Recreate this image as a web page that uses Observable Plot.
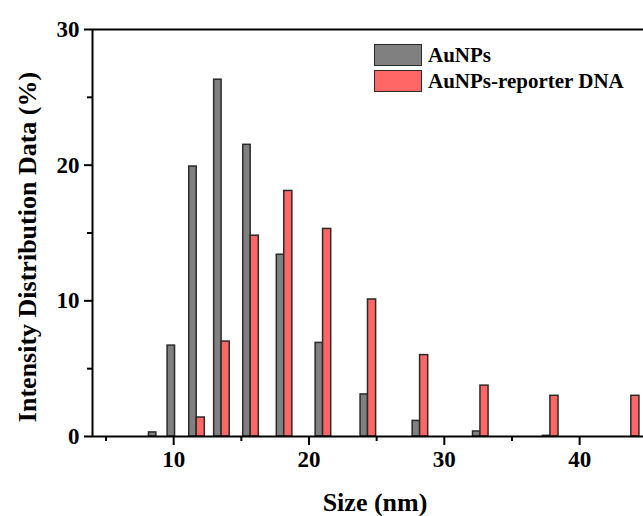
<!DOCTYPE html>
<html>
<head>
<meta charset="utf-8">
<script src="https://cdn.jsdelivr.net/npm/d3@7"></script>
<script src="https://cdn.jsdelivr.net/npm/@observablehq/plot@0.6"></script>
<style>
  html, body { margin: 0; padding: 0; background: #fff; overflow: hidden; }
  #wrap { position: relative; width: 643px; height: 516px; overflow: hidden; }
  .legend { position: absolute; left: 374px; top: 42px; font-family: "Liberation Serif", "Times New Roman", serif; font-weight: bold; font-size: 21px; color: #000; }
  .legend .row { display: flex; align-items: center; height: 26px; }
  .legend .sw { width: 48px; height: 22px; border: 1.5px solid #2a2a2a; margin-right: 6px; box-sizing: border-box; }
</style>
</head>
<body>
<div id="wrap"></div>
<script>
// Size bins (nm)
const sizes = [8.721, 10.10, 11.70, 13.54, 15.69, 18.17, 21.04, 24.36, 28.21, 32.67, 37.84, 43.82];
// Intensity (%) – AuNPs
const auNPs = [0.3, 6.7, 19.9, 26.3, 21.5, 13.4, 6.9, 3.1, 1.15, 0.37, 0.05, 0];
// Intensity (%) – AuNPs-reporter DNA
const auNPsDNA = [0, 0, 1.4, 7.0, 14.8, 18.1, 15.3, 10.1, 6.0, 3.75, 3.0, 3.0];

const seriesNames = ["AuNPs", "AuNPs-reporter DNA"];
const seriesColors = ["#808080", "#ff6666"];

const yMajor = [0, 10, 20, 30];
const yMinor = [5, 15, 25];
const xMajor = [10, 20, 30, 40];
const xMinor = [5, 15, 25, 35, 45];

const xTitle = "Size (nm)";
const yTitle = "Intensity Distribution Data (%)";

const greyData = sizes.map((s, i) => ({size: s, v: auNPs[i]})).filter(d => d.v > 0);
const redData = sizes.map((s, i) => ({size: s, v: auNPsDNA[i]})).filter(d => d.v > 0);

const wGrey = 0.55, wRed = 0.6;
const font = "'Liberation Serif', 'Times New Roman', serif";

const chart = Plot.plot({
  width: 643,
  height: 516,
  marginLeft: 92,
  marginRight: 0,
  marginTop: 29,
  marginBottom: 80,
  style: {fontFamily: font, fontWeight: "bold", fontSize: "23px", color: "#000", background: "#fff"},
  x: {domain: [4, 44.72]},
  y: {domain: [0, 30]},
  marks: [
    Plot.rectY(greyData, {x1: d => d.size - wGrey, x2: d => d.size, y: "v", fill: seriesColors[0], stroke: "#2a2a2a", strokeWidth: 1.5}),
    Plot.rectY(redData, {x1: d => d.size, x2: d => d.size + wRed, y: "v", fill: seriesColors[1], stroke: "#2a2a2a", strokeWidth: 1.5}),
    Plot.axisY(yMajor, {tickSize: 8, tickPadding: 5, strokeWidth: 2, label: null, fontSize: 23}),
    Plot.axisY(yMinor, {tickSize: 5, tickFormat: () => "", strokeWidth: 2, label: null}),
    Plot.axisX(xMajor, {tickSize: 9, tickPadding: 5, strokeWidth: 2, label: null, fontSize: 23}),
    Plot.axisX(xMinor, {tickSize: 5, tickFormat: () => "", strokeWidth: 2, label: null}),
    Plot.ruleY([0], {stroke: "#000", strokeWidth: 2}),
    Plot.ruleY([30], {stroke: "#000", strokeWidth: 2}),
    Plot.ruleX([4], {stroke: "#000", strokeWidth: 2}),
    Plot.text([xTitle], {frameAnchor: "bottom", dy: 66, dx: 7, text: d => d, fontSize: 26, fontWeight: "bold", fill: "#000", lineAnchor: "middle"}),
    Plot.text([yTitle], {frameAnchor: "left", dx: -65, dy: 14, rotate: -90, text: d => d, fontSize: 26, fontWeight: "bold", fill: "#000", lineAnchor: "middle", textAnchor: "middle"})
  ]
});

const wrap = document.getElementById("wrap");
wrap.appendChild(chart);

const legend = document.createElement("div");
legend.className = "legend";
seriesNames.forEach((name, i) => {
  const row = document.createElement("div");
  row.className = "row";
  const sw = document.createElement("div");
  sw.className = "sw";
  sw.style.background = seriesColors[i];
  const lab = document.createElement("span");
  lab.textContent = name;
  row.appendChild(sw);
  row.appendChild(lab);
  legend.appendChild(row);
});
wrap.appendChild(legend);
</script>
</body>
</html>
